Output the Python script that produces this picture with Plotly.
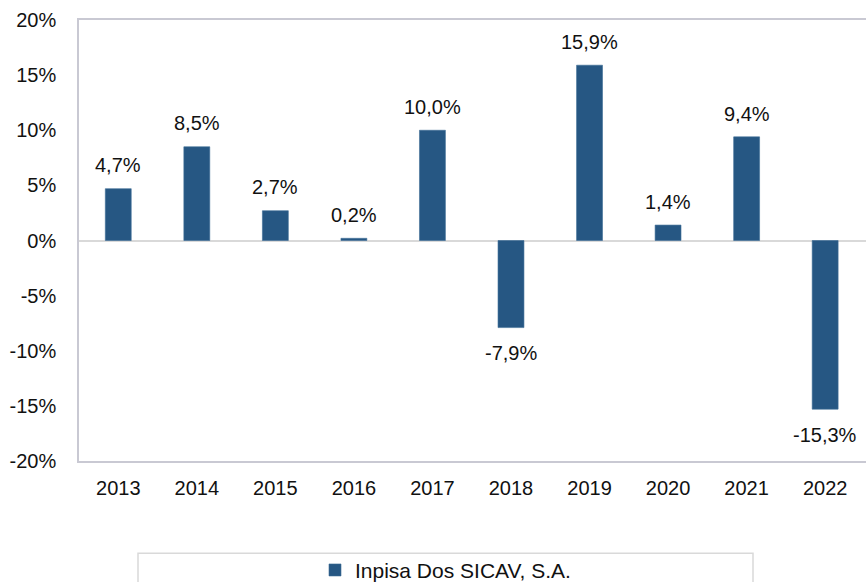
import plotly.graph_objects as go

years = ["2013", "2014", "2015", "2016", "2017", "2018", "2019", "2020", "2021", "2022"]
returns = [4.7, 8.5, 2.7, 0.2, 10.0, -7.9, 15.9, 1.4, 9.4, -15.3]
series_name = "Inpisa Dos SICAV, S.A."
y_tickvals = [20, 15, 10, 5, 0, -5, -10, -15, -20]
y_ticktext = ["20%", "15%", "10%", "5%", "0%", "-5%", "-10%", "-15%", "-20%"]

labels = [f"{v:.1f}%".replace(".", ",") for v in returns]

BAR = "#265783"
FONT = "Liberation Sans, Arial, Helvetica, sans-serif"
TXT = "#111111"

K = 591 / 582  # vertical compensation for the page capture
W, H = 866, 591
L = 79
T = round(20 * K)
PH = round(460 * K) - T
B = H - T - PH
PW = W - L


def py(y_ref):
    """paper y for a reference pixel row"""
    return (T + PH - y_ref * K) / PH


fig = go.Figure()
fig.add_trace(go.Bar(
    x=years, y=returns, name=series_name,
    marker=dict(color=BAR, line=dict(color="#3d6b96", width=0.6)),
    width=0.33, showlegend=True,
))

for i, (v, t) in enumerate(zip(returns, labels)):
    fig.add_annotation(x=i, y=v, xref="x", yref="y", text=t, showarrow=False,
                       yanchor="middle", yshift=(23 if v >= 0 else -25) * K,
                       font=dict(family=FONT, size=20, color=TXT))

fig.update_layout(
    width=W, height=H,
    margin=dict(l=L, r=0, t=T, b=B, pad=0),
    paper_bgcolor="white", plot_bgcolor="white",
    font=dict(family=FONT, size=20, color=TXT),
    showlegend=True,
    legend=dict(orientation="h", x=(315 - L) / PW, xanchor="left",
                y=py(569), yanchor="middle",
                font=dict(family=FONT, size=21, color=TXT),
                bgcolor="rgba(0,0,0,0)", borderwidth=0, itemwidth=30),
)
fig.update_xaxes(
    type="category", categoryorder="array", categoryarray=years, range=[-0.5, 9.52],
    showline=True, linecolor="#C9C9D3", linewidth=1.5, mirror=True, automargin=False,
    ticks="", showgrid=False, ticklabelstandoff=8,
    tickfont=dict(family=FONT, size=20, color=TXT),
)
fig.update_yaxes(
    range=[-20, 20], tickvals=y_tickvals, ticktext=y_ticktext, automargin=False,
    showline=True, linecolor="#C9C9D3", linewidth=1.5,
    ticks="", showgrid=False, zeroline=True, zerolinecolor="#D9D9D9", zerolinewidth=1.5,
    ticklabelstandoff=17, tickfont=dict(family=FONT, size=20, color=TXT),
)
# legend frame
fig.add_shape(type="rect", xref="paper", yref="paper",
              x0=(138 - L) / PW, x1=(753 - L) / PW,
              y0=py(620), y1=py(552),
              line=dict(color="#D9D9D9", width=1.5), fillcolor="rgba(0,0,0,0)", layer="below")

fig.write_html("out.html", config={"displayModeBar": False},
               post_script="document.body.style.margin='0';")
